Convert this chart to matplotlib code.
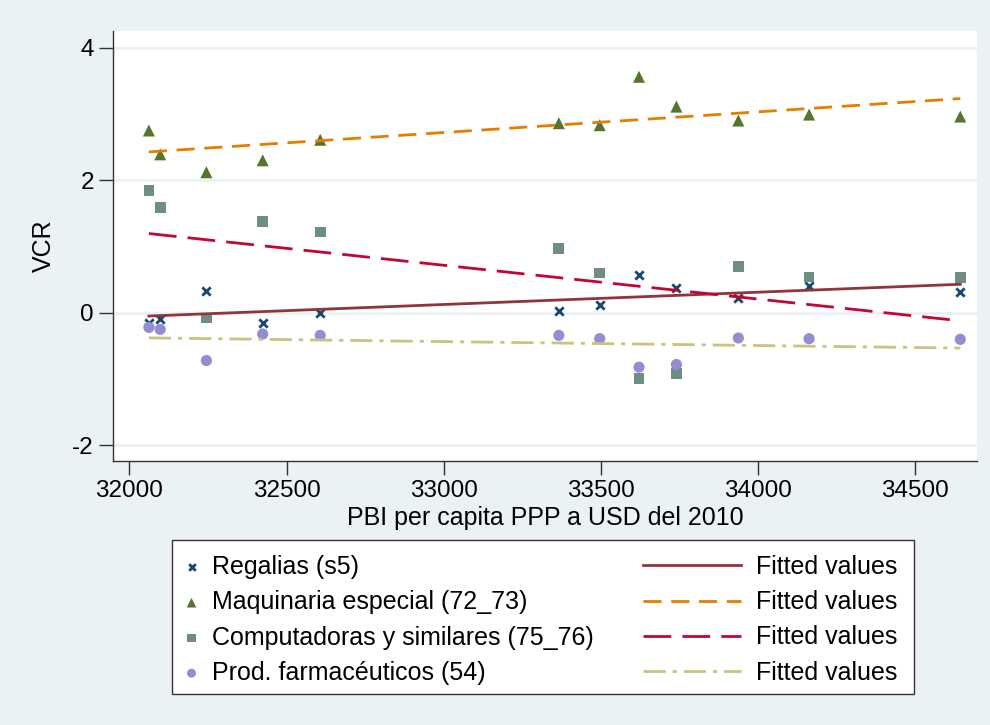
import matplotlib.pyplot as plt
from matplotlib.patches import Rectangle
import numpy as np

plt.rcParams['font.family'] = ['Liberation Sans', 'DejaVu Sans']
plt.rcParams['axes.unicode_minus'] = False

# PBI per capita PPP (USD 2010)
pbi = [32062, 32098, 32245, 32424, 32607, 33366, 33496, 33621, 33740, 33937, 34162, 34643]

regalias = [-0.15, -0.10, 0.33, -0.16, 0.00, 0.02, 0.12, 0.57, 0.37, 0.23, 0.41, 0.31]
maquinaria = [2.75, 2.39, 2.12, 2.30, 2.61, 2.86, 2.83, 3.56, 3.11, 2.90, 2.99, 2.96]
computadoras = [1.84, 1.59, -0.08, 1.38, 1.22, 0.97, 0.60, -0.99, -0.92, 0.70, 0.54, 0.53]
farma = [-0.22, -0.25, -0.72, -0.32, -0.34, -0.34, -0.39, -0.82, -0.78, -0.38, -0.39, -0.40]

labels = ['Regalias (s5)', 'Maquinaria especial (72_73)',
          'Computadoras y similares (75_76)', 'Prod. farmacéuticos (54)']

bg = '#EAF2F3'
fig = plt.figure(figsize=(9.9, 7.25), dpi=100, facecolor=bg)
ax = fig.add_axes([0.1145, 0.3646, 0.872, 0.5926])
ax.set_facecolor('white')

x = np.array(pbi, dtype=float)
series = [regalias, maquinaria, computadoras, farma]
mstyles = [dict(marker='x', color='#1A476F', s=36, linewidths=2),
           dict(marker='^', color='#55752F', s=75, edgecolors='none'),
           dict(marker='s', color='#6E8E84', s=60, edgecolors='none'),
           dict(marker='o', color='#938DD2', s=65, edgecolors='none')]
lstyles = [dict(color='#90353B', ls='-'),
           dict(color='#E37E00', ls=(0, (6.5, 3.5))),
           dict(color='#C10534', ls=(0, (10, 4))),
           dict(color='#CAC27E', ls=(0, (8, 2.5, 1.5, 2.5)))]

sc_handles = []
ln_handles = []
for ys, ms, ls in zip(series, mstyles, lstyles):
    y = np.array(ys)
    h = ax.scatter(x, y, zorder=3, **ms)
    # linear fit, as Stata's lfit
    b, a = np.polyfit(x, y, 1)
    xx = np.array([x.min(), x.max()])
    l, = ax.plot(xx, a + b * xx, lw=2, zorder=4, **ls)
    sc_handles.append(h)
    ln_handles.append(l)

ax.set_xlim(31949, 34695)
ax.set_ylim(-2.23, 4.25)
ax.set_xticks([32000, 32500, 33000, 33500, 34000, 34500])
ax.set_yticks([-2, 0, 2, 4])
ax.yaxis.grid(True, color=bg, lw=2)
ax.set_axisbelow(True)
for s in ['top', 'right']:
    ax.spines[s].set_visible(False)
for s in ['left', 'bottom']:
    ax.spines[s].set_color('#333333')
    ax.spines[s].set_linewidth(1)
ax.tick_params(labelsize=17.5, length=10, width=1, color='#333333')
ax.tick_params(axis='x', pad=3.6)
ax.tick_params(axis='y', pad=4)
ax.set_xlabel('PBI per capita PPP a USD del 2010', fontsize=18, labelpad=3)
ax.set_ylabel('VCR', fontsize=18, labelpad=12)

# legend box
fig.add_artist(Rectangle((172 / 990, 1 - 694 / 725), (914 - 172) / 990, (694 - 540) / 725,
                         transform=fig.transFigure, facecolor='white',
                         edgecolor='#333333', lw=1))
leg1 = fig.legend(sc_handles, labels, loc='upper left',
                  bbox_to_anchor=(184 / 990, 1 - 555 / 725), frameon=False,
                  fontsize=18, handlelength=0.6, handletextpad=0.5,
                  labelspacing=0.45, borderpad=0, borderaxespad=0,
                  scatterpoints=1, markerscale=0.8)
leg2 = fig.legend(ln_handles, ['Fitted values'] * 4, loc='upper left',
                  bbox_to_anchor=(643 / 990, 1 - 555 / 725), frameon=False,
                  fontsize=18, handlelength=3.9, handletextpad=0.6,
                  labelspacing=0.45, borderpad=0, borderaxespad=0)

fig.savefig('out.png', dpi=100, facecolor=bg)
